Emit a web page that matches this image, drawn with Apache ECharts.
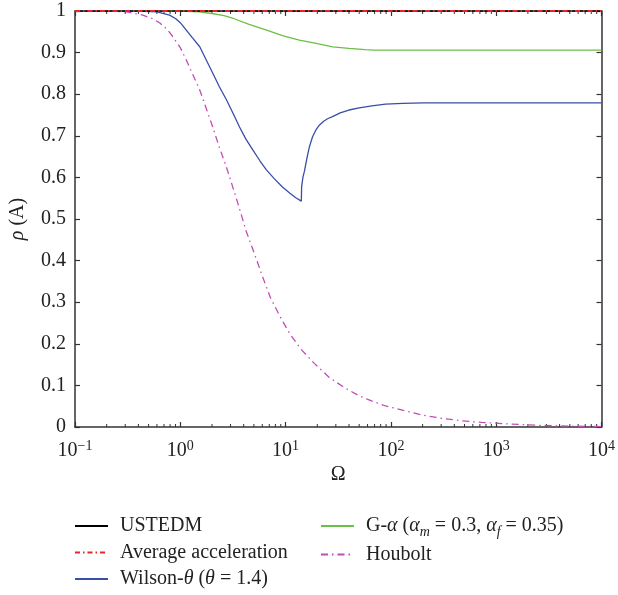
<!DOCTYPE html>
<html>
<head>
<meta charset="utf-8">
<script src="https://cdn.jsdelivr.net/npm/echarts@6/dist/echarts.min.js"></script>
<style>
  html, body { margin: 0; padding: 0; background: #fff; }
  #chart { width: 618px; height: 595px; }
</style>
</head>
<body>
<div id="chart"></div>
<script>
// Spectral radius rho(A) versus Omega for several time-integration schemes
const ustedmOmega = [0.1, 10000];
const ustedmRho = [1, 1];

const avgAccOmega = [0.1, 10000];
const avgAccRho = [1, 1];

const wilsonOmega = [0.1, 0.4, 0.6, 0.79, 0.9, 1.0, 1.14, 1.3, 1.53, 1.75, 2.03, 2.35, 2.75, 3.2, 3.65, 4.2, 4.88, 5.7,
  6.57, 7.8, 9.33, 11, 12.5, 14.1, 14.2, 14.6, 15.1, 16, 16.8, 18, 19.4, 21, 23, 25, 27.9, 33, 40, 50, 66, 89, 130, 204, 10000];
const wilsonRho = [1, 1, 0.998, 0.99, 0.982, 0.972, 0.954, 0.936, 0.914, 0.884, 0.851, 0.818, 0.786, 0.752, 0.721, 0.692, 0.666, 0.64,
  0.618, 0.597, 0.577, 0.562, 0.551, 0.543, 0.578, 0.6, 0.615, 0.648, 0.673, 0.697, 0.714, 0.726, 0.735, 0.741, 0.746, 0.755, 0.762, 0.767, 0.772, 0.776, 0.778, 0.779, 0.779];

const galphaOmega = [0.1, 1, 1.5, 2, 2.6, 3.2, 4.5, 6.6, 9.5, 13.5, 19.5, 28, 40, 57, 70, 10000];
const galphaRho = [1, 1, 0.998, 0.994, 0.989, 0.982, 0.968, 0.954, 0.94, 0.93, 0.922, 0.914, 0.91, 0.907, 0.906, 0.906];

const houboltOmega = [0.1, 0.2, 0.31, 0.44, 0.54, 0.64, 0.75, 0.85, 1.0, 1.14, 1.3, 1.53, 1.75, 2.04, 2.35, 2.74, 3.05, 3.4,
  3.8, 4.23, 5.0, 6.07, 7.2, 9.06, 10.9, 14, 18.7, 26, 36, 50, 62, 89, 138, 204, 302, 468, 725, 1400, 2530, 5000, 10000];
const houboltRho = [1, 0.9995, 0.998, 0.99, 0.982, 0.971, 0.956, 0.938, 0.912, 0.882, 0.85, 0.81, 0.768, 0.72, 0.672, 0.625, 0.588, 0.55,
  0.51, 0.47, 0.42, 0.36, 0.31, 0.261, 0.225, 0.187, 0.153, 0.119, 0.095, 0.075, 0.065, 0.0505, 0.0385, 0.028, 0.021, 0.015, 0.011, 0.007, 0.004, 0.002, 0.001];

// Decade tick labels (exponents of 10) on the Omega axis
const xTickExponents = ['−1', '0', '1', '2', '3', '4'];
// Minor tick multipliers inside each decade
const minorMultipliers = [2, 3, 4, 5, 6, 7, 8, 9];
const decades = [0.1, 1, 10, 100, 1000];

const zip = (xs, ys) => xs.map((x, i) => [x, ys[i]]);

const minorTicks = [];
decades.forEach(d => minorMultipliers.forEach(m => minorTicks.push([d * m, 0])));

const FONT = 'Liberation Serif';
const AXIS_COLOR = '#333';
const TEXT_COLOR = '#222';

const names = {
  ustedm: 'USTEDM',
  avg: 'Average acceleration',
  wilson: 'Wilson-θ (θ = 1.4)',
  galpha: 'G-α (αm = 0.3, αf = 0.35)',
  houbolt: 'Houbolt'
};

const legendRich = {
  i: { fontFamily: FONT, fontStyle: 'italic', fontSize: 20, color: TEXT_COLOR },
  sub: { fontFamily: FONT, fontStyle: 'italic', fontSize: 14, color: TEXT_COLOR, padding: [12, 0, 0, 0] }
};

function legendFormatter(name) {
  if (name === names.wilson) return 'Wilson-{i|θ} ({i|θ} = 1.4)';
  if (name === names.galpha) return 'G-{i|α} ({i|α}{sub|m} = 0.3, {i|α}{sub|f} = 0.35)';
  return name;
}

const legendCommon = {
  orient: 'vertical',
  height: 120,
  padding: 0,
  itemWidth: 33,
  itemHeight: 14,
  itemGap: 4.5,
  formatter: legendFormatter,
  itemStyle: { opacity: 0 },
  textStyle: {
    fontFamily: FONT,
    fontSize: 20,
    color: TEXT_COLOR,
    lineHeight: 22,
    padding: [0, 0, 0, 7],
    rich: legendRich
  }
};

const chart = echarts.init(document.getElementById('chart'), null, { renderer: 'canvas' });

chart.setOption({
  backgroundColor: '#fff',
  animation: false,
  grid: { left: 75, right: 15, top: 11, bottom: 168, containLabel: false },
  legend: [
    Object.assign({ left: 74, top: 515, data: [names.ustedm, names.avg, names.wilson] }, legendCommon),
    Object.assign({ left: 320, top: 515, data: [names.galpha, names.houbolt] }, legendCommon)
  ],
  xAxis: [
    {
      type: 'log',
      logBase: 10,
      min: 0.1,
      max: 10000,
      position: 'bottom',
      name: 'Ω',
      nameLocation: 'middle',
      nameGap: 38,
      nameMoveOverlap: false,
      nameTextStyle: { fontFamily: FONT, fontSize: 20, color: TEXT_COLOR },
      axisLine: { show: true, onZero: false, lineStyle: { color: AXIS_COLOR, width: 1.5 } },
      axisTick: { show: true, inside: true, length: 5, lineStyle: { color: AXIS_COLOR, width: 1.2 } },
      splitLine: { show: false },
      minorTick: { show: false },
      axisLabel: {
        margin: 12,
        formatter: v => {
          const e = Math.round(Math.log10(v)) + 1;
          return '{b|10}{s|' + xTickExponents[e] + '}';
        },
        rich: {
          b: { fontFamily: FONT, fontSize: 20, color: TEXT_COLOR },
          s: { fontFamily: FONT, fontSize: 14, color: TEXT_COLOR, padding: [0, 0, 10, 0] }
        }
      }
    },
    {
      type: 'log',
      logBase: 10,
      min: 0.1,
      max: 10000,
      position: 'top',
      axisLine: { show: true, onZero: false, lineStyle: { color: AXIS_COLOR, width: 1.5 } },
      axisTick: { show: true, inside: true, length: 5, lineStyle: { color: AXIS_COLOR, width: 1.2 } },
      axisLabel: { show: false },
      splitLine: { show: false }
    }
  ],
  yAxis: [
    {
      type: 'value',
      min: 0,
      max: 1,
      interval: 0.1,
      position: 'left',
      name: '{i|ρ} (A)',
      nameLocation: 'middle',
      nameRotate: 90,
      nameGap: 47,
      nameMoveOverlap: false,
      nameTextStyle: {
        fontFamily: FONT, fontSize: 20, color: TEXT_COLOR,
        rich: { i: { fontFamily: FONT, fontStyle: 'italic', fontSize: 20, color: TEXT_COLOR } }
      },
      axisLine: { show: true, onZero: false, lineStyle: { color: AXIS_COLOR, width: 1.5 } },
      axisTick: { show: true, inside: true, length: 5, lineStyle: { color: AXIS_COLOR, width: 1.2 } },
      splitLine: { show: false },
      axisLabel: { margin: 9, fontFamily: FONT, fontSize: 20, color: TEXT_COLOR }
    },
    {
      type: 'value',
      min: 0,
      max: 1,
      interval: 0.1,
      position: 'right',
      axisLine: { show: true, onZero: false, lineStyle: { color: AXIS_COLOR, width: 1.5 } },
      axisTick: { show: true, inside: true, length: 5, lineStyle: { color: AXIS_COLOR, width: 1.2 } },
      axisLabel: { show: false },
      splitLine: { show: false }
    }
  ],
  series: [
    {
      name: 'minor ticks',
      type: 'custom',
      silent: true,
      xAxisIndex: 0,
      yAxisIndex: 0,
      clip: false,
      data: minorTicks,
      renderItem: (params, api) => {
        const x = api.value(0);
        const pb = api.coord([x, 0]);
        const pt = api.coord([x, 1]);
        const st = { stroke: AXIS_COLOR, lineWidth: 1 };
        return {
          type: 'group',
          children: [
            { type: 'line', shape: { x1: pb[0], y1: pb[1], x2: pb[0], y2: pb[1] - 3 }, style: st },
            { type: 'line', shape: { x1: pt[0], y1: pt[1], x2: pt[0], y2: pt[1] + 3 }, style: st }
          ]
        };
      },
      z: 1
    },
    {
      name: names.galpha,
      type: 'line',
      data: zip(galphaOmega, galphaRho),
      symbol: 'none',
      color: '#6cbf45',
      lineStyle: { color: '#6cbf45', width: 1.3 },
      z: 3
    },
    {
      name: names.wilson,
      type: 'line',
      data: zip(wilsonOmega, wilsonRho),
      symbol: 'none',
      color: '#3a4ea6',
      lineStyle: { color: '#3a4ea6', width: 1.3 },
      z: 3
    },
    {
      name: names.houbolt,
      type: 'line',
      data: zip(houboltOmega, houboltRho),
      symbol: 'none',
      color: '#c24cb6',
      lineStyle: { color: '#c24cb6', width: 1.3, type: [7, 4, 1.5, 4] },
      z: 3
    },
    {
      name: names.ustedm,
      type: 'line',
      data: zip(ustedmOmega, ustedmRho),
      symbol: 'none',
      color: '#000',
      lineStyle: { color: '#000', width: 1.3 },
      z: 4
    },
    {
      name: names.avg,
      type: 'line',
      data: zip(avgAccOmega, avgAccRho),
      symbol: 'none',
      color: '#ee2424',
      lineStyle: { color: '#ee2424', width: 2, type: [5, 3, 1.5, 3] },
      z: 5
    }
  ]
});
</script>
</body>
</html>
